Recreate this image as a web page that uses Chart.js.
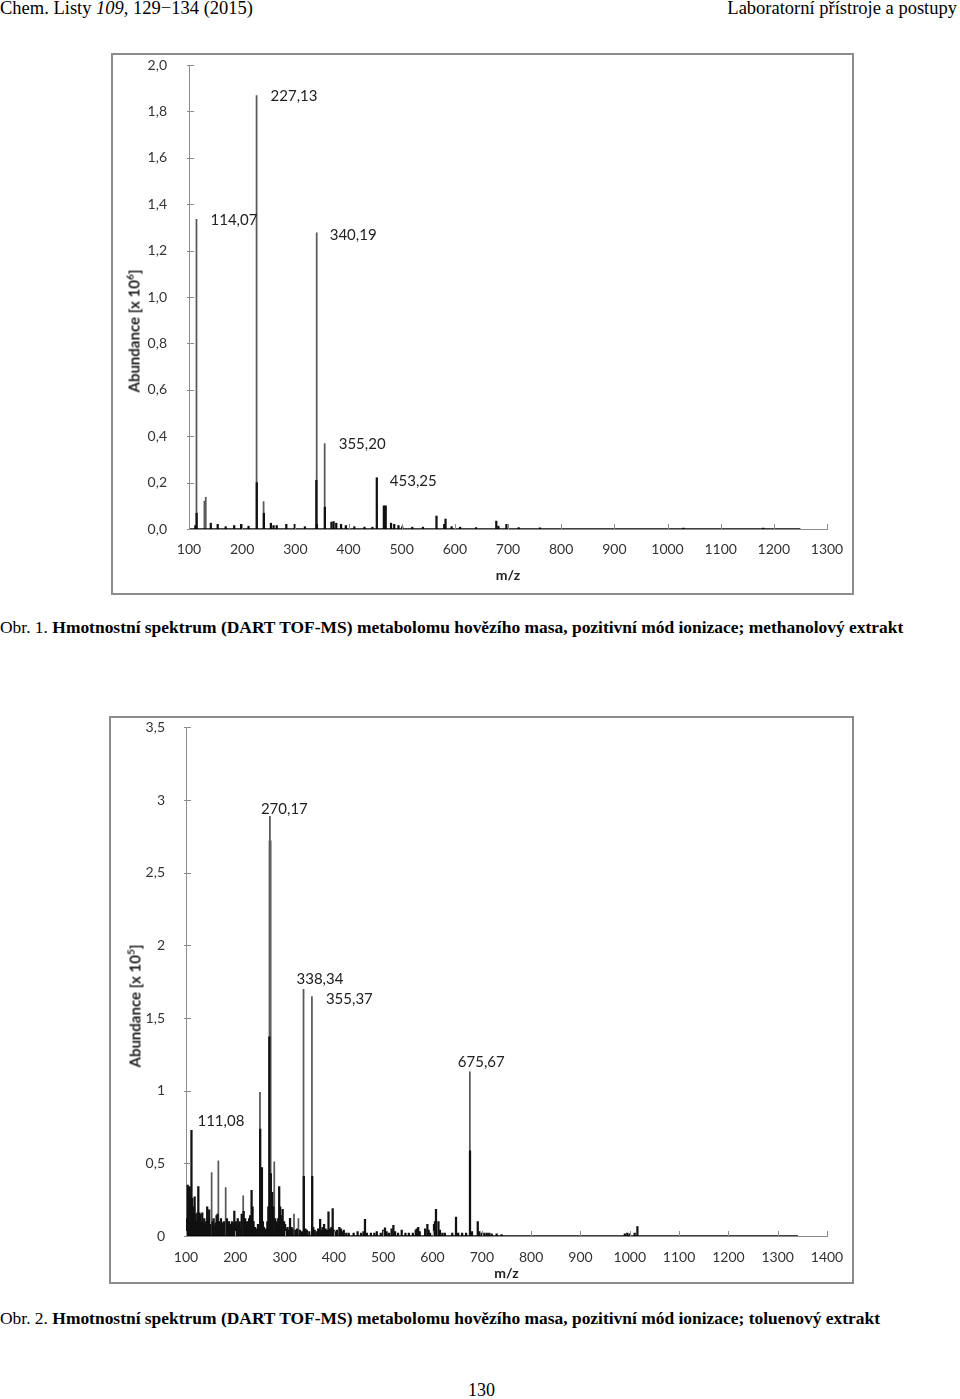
<!DOCTYPE html>
<html>
<head>
<meta charset="utf-8">
<script src="https://cdn.jsdelivr.net/npm/chart.js@4.4.1/dist/chart.umd.min.js"></script>
<style>
  body { margin: 0; background: #fff; }
  #page { position: relative; width: 960px; height: 1399px; overflow: hidden; font-family: "Liberation Serif", "Times New Roman", serif; color: #000; }
  .t { position: absolute; white-space: nowrap; font-size: 17.44px; line-height: 20px; }
  .hd { font-size: 18.5px; }
  .frame { position: absolute; border: 2px solid #8c8c8c; box-sizing: border-box; background: #fff; }
  .frame canvas { position: absolute; left: 0; top: 0; }
  .ytitle { position: absolute; width: 0; height: 0; }
  .ytitle span { position: absolute; left: 0; top: 0; transform: translate(-50%, -50%) rotate(-90deg); white-space: nowrap;
    font-family: Lato, sans-serif; font-weight: bold; font-size: 15px; color: #222; }
  .ytitle sup { font-size: 10px; }
</style>
</head>
<body>
<div id="page">
  <div class="t hd" style="left:0;top:-2px;">Chem. Listy <i>109</i>, 129−134 (2015)</div>
  <div class="t hd" style="right:3px;top:-2px;">Laboratorní přístroje a postupy</div>

  <div class="frame" style="left:111px;top:53px;width:743px;height:542px;">
    <canvas id="chart1" width="739" height="538"></canvas>
  </div>
  <div class="ytitle" style="left:133px;top:331px;"><span>Abundance [x 10<sup>6</sup>]</span></div>

  <div class="t" style="left:0;top:617px;">Obr. 1. <b>Hmotnostní spektrum (DART TOF-MS) metabolomu hovězího masa, pozitivní mód ionizace; methanolový extrakt</b></div>

  <div class="frame" style="left:109px;top:716px;width:745px;height:568px;">
    <canvas id="chart2" width="741" height="564"></canvas>
  </div>
  <div class="ytitle" style="left:134px;top:1006px;"><span>Abundance [x 10<sup>5</sup>]</span></div>

  <div class="t" style="left:0;top:1308px;">Obr. 2. <b>Hmotnostní spektrum (DART TOF-MS) metabolomu hovězího masa, pozitivní mód ionizace; toluenový extrakt</b></div>

  <div class="t" style="left:468px;top:1380px;font-size:18px;">130</div>
</div>

<script>
// ---- Obr. 1 (methanol extract), abundance in 10^6 ----
const xTicks1 = [100, 200, 300, 400, 500, 600, 700, 800, 900, 1000, 1100, 1200, 1300];
const yTicks1 = [0, 0.2, 0.4, 0.6, 0.8, 1.0, 1.2, 1.4, 1.6, 1.8, 2.0];
const yTickLabels1 = ['0,0', '0,2', '0,4', '0,6', '0,8', '1,0', '1,2', '1,4', '1,6', '1,8', '2,0'];

// tall thin peaks (grey)
const mzTall1 = [114.07, 129, 131.5, 227.13, 240.3, 340.19, 355.20];
const abTall1 = [1.335, 0.12, 0.137, 1.868, 0.118, 1.277, 0.368];

// everything else (black)
const mzPeaks1 = [112, 114.4, 141, 154, 169, 185, 198, 212, 227.5, 240.8, 254, 259, 265, 283, 299, 318,
  339.5, 340.6, 355.6, 368, 372, 377, 386, 395, 411, 430, 445, 453.25, 466.5, 470, 480, 486, 494, 501, 520,
  540, 565.5, 580, 582.5, 594, 610, 640, 678, 682, 697, 720, 760, 1030, 1180];
const abPeaks1 = [0.015, 0.068, 0.025, 0.02, 0.01, 0.015, 0.02, 0.012, 0.2, 0.068, 0.025, 0.015, 0.015, 0.02, 0.02, 0.01,
  0.21, 0.02, 0.094, 0.03, 0.032, 0.025, 0.02, 0.015, 0.01, 0.008, 0.008, 0.221, 0.1, 0.1, 0.025, 0.02, 0.015, 0.01, 0.008,
  0.008, 0.056, 0.02, 0.043, 0.01, 0.008, 0.006, 0.034, 0.012, 0.02, 0.006, 0.005, 0.004, 0.004];

const baseline1 = [100, 1250];

const labelMz1 = [114.07, 227.13, 340.19, 355.20, 453.25];
const labelAb1 = [1.335, 1.868, 1.277, 0.368, 0.221];
const labelText1 = ['114,07', '227,13', '340,19', '355,20', '453,25'];

// ---- Obr. 2 (toluene extract), abundance in 10^5 ----
const xTicks2 = [100, 200, 300, 400, 500, 600, 700, 800, 900, 1000, 1100, 1200, 1300, 1400];
const yTicks2 = [0, 0.5, 1, 1.5, 2, 2.5, 3, 3.5];
const yTickLabels2 = ['0', '0,5', '1', '1,5', '2', '2,5', '3', '3,5'];

const mzTall2 = [152, 165.6, 180.5, 216, 250, 270.17, 279, 319, 328, 338.34, 355.37, 675.67];
const abTall2 = [0.436, 0.517, 0.333, 0.276, 0.988, 2.888, 0.51, 0.15, 0.12, 1.698, 1.647, 1.13];

// the wide grey body of the 270 peak
const mzWide2 = [270.6];
const abWide2 = [2.72];

const mzPeaks2 = [100.5, 102, 103.5, 105, 106, 107.5, 109, 111.08, 112.5, 114, 116, 117.5, 119, 121, 123, 125,
  127, 129, 131, 133, 135, 137, 139, 141, 143, 145, 147, 149, 154, 156, 158, 160, 162, 164, 167, 169, 171, 173,
  175, 177, 183, 185, 187, 189, 191, 193, 195, 198, 201, 203, 205, 207, 209, 211, 213, 217, 220, 222, 224, 226,
  228, 230, 233, 235, 237, 240, 243, 246, 250.5, 254, 256, 258, 262, 265, 267, 269, 272, 275, 277, 281, 283,
  285, 287, 289, 291, 293, 296, 299, 301, 303, 306, 309, 311, 314, 316, 322, 325, 331, 335, 339, 342, 345,
  350, 356, 358, 361, 365, 368, 372, 375, 377, 380, 383, 386, 389, 392, 395, 397.5, 400, 403, 406, 411, 414,
  417, 420, 425, 430, 440, 448, 455, 460, 463, 467, 475, 482, 487, 495, 500, 503.6, 507, 512, 517, 520.6, 524,
  530, 537.5, 545, 552, 560, 566, 568, 571, 574, 585, 589.5, 592, 595, 603, 605, 607, 612, 615, 620, 625, 640,
  647.6, 652, 660, 668, 676, 680, 691.7, 695, 700, 705, 710, 715, 720, 730, 740, 990, 995, 1000, 1010, 1015.5];
const abPeaks2 = [0.12, 0.1, 0.35, 0.33, 0.3, 0.34, 0.28, 0.728, 0.26, 0.2, 0.12, 0.27, 0.15, 0.1, 0.16, 0.34,
  0.16, 0.15, 0.1, 0.16, 0.09, 0.12, 0.08, 0.1, 0.2, 0.12, 0.18, 0.08, 0.1, 0.12, 0.07, 0.09, 0.14, 0.15, 0.1, 0.08, 0.12, 0.06,
  0.09, 0.1, 0.12, 0.08, 0.1, 0.06, 0.08, 0.1, 0.09, 0.172, 0.1, 0.07, 0.12, 0.08, 0.1, 0.06, 0.15, 0.17, 0.12, 0.08, 0.1, 0.07,
  0.12, 0.14, 0.315, 0.2, 0.1, 0.06, 0.05, 0.08, 0.735, 0.47, 0.1, 0.06, 0.05, 0.1, 0.2, 1.37, 0.43, 0.3, 0.2, 0.12, 0.1,
  0.08, 0.12, 0.34, 0.2, 0.14, 0.184, 0.1, 0.08, 0.05, 0.06, 0.04, 0.122, 0.06, 0.05, 0.04, 0.05, 0.04, 0.03, 0.41, 0.05, 0.04,
  0.03, 0.41, 0.06, 0.04, 0.03, 0.05, 0.115, 0.04, 0.06, 0.08, 0.05, 0.04, 0.167, 0.05, 0.06, 0.188, 0.04, 0.03, 0.04, 0.06, 0.05,
  0.03, 0.04, 0.02, 0.02, 0.02, 0.03, 0.02, 0.03, 0.115, 0.02, 0.02, 0.02, 0.03, 0.02, 0.04, 0.057, 0.03, 0.02, 0.05, 0.073, 0.03,
  0.02, 0.04, 0.02, 0.02, 0.02, 0.04, 0.05, 0.06, 0.03, 0.05, 0.08, 0.04, 0.02, 0.08, 0.1, 0.184, 0.1, 0.04, 0.02, 0.02, 0.02,
  0.13, 0.02, 0.02, 0.02, 0.586, 0.03, 0.1, 0.03, 0.02, 0.02, 0.02, 0.02, 0.015, 0.015, 0.01, 0.015, 0.02, 0.015, 0.02, 0.064];

const baseline2 = [100, 1341];

const labelMz2 = [111.08, 270.17, 338.34, 355.37, 675.67];
const labelAb2 = [0.728, 2.888, 1.698, 1.647, 1.13];
const labelText2 = ['111,08', '270,17', '338,34', '355,37', '675,67'];

// label placement relative to the peak top, px (layout only)
const labelOffset1 = [[14, 1], [14, 1], [13, 2], [14, 1], [13, 3]];
const labelOffset2 = [[6, -9], [-9, -7], [-7, -10], [14, 2], [-12, -10]];

const tickFont = { family: 'Lato', size: 14 };
const axisGrey = '#8c8c8c';

function pts(xs, ys) {
  return xs.map((x, i) => ({ x: x, y: ys[i] }));
}

// short tick marks drawn inward from the axes, and the peak captions
const innerTicks = {
  id: 'innerTicks',
  afterDraw(chart) {
    const ctx = chart.ctx;
    const xs = chart.scales.x, ys = chart.scales.y;
    ctx.save();
    ctx.strokeStyle = axisGrey;
    ctx.lineWidth = 1;
    ctx.beginPath();
    xs.ticks.forEach(t => {
      const px = Math.round(xs.getPixelForValue(t.value)) + 0.5;
      ctx.moveTo(px, ys.bottom);
      ctx.lineTo(px, ys.bottom - 5);
    });
    ys.ticks.forEach(t => {
      const py = Math.round(ys.getPixelForValue(t.value)) + 0.5;
      ctx.moveTo(xs.left - 2, py);
      ctx.lineTo(xs.left + 5, py);
    });
    ctx.stroke();

    const lab = chart.options.plugins.innerTicks;
    ctx.fillStyle = '#222';
    ctx.font = '15px Lato';
    ctx.textAlign = 'left';
    ctx.textBaseline = 'middle';
    lab.mz.forEach((m, i) => {
      const px = xs.getPixelForValue(m) + lab.offset[i][0];
      const py = ys.getPixelForValue(lab.ab[i]) + lab.offset[i][1];
      ctx.fillText(lab.text[i], px, py);
    });
    ctx.restore();
  }
};

function makeChart(id, cfg) {
  return new Chart(document.getElementById(id), {
    type: 'bar',
    data: {
      datasets: [
        { type: 'line', data: pts(cfg.baseline, [0, 0]), borderColor: '#000', borderWidth: 1.5, pointRadius: 0 },
        { data: pts(cfg.mzPeaks, cfg.abPeaks), backgroundColor: '#111', barThickness: 1.6, grouped: false },
        { data: pts(cfg.mzTall, cfg.abTall), backgroundColor: '#5a5a5a', barThickness: 1.1, grouped: false }
      ].concat(cfg.extra || [])
    },
    options: {
      responsive: false,
      animation: false,
      events: [],
      layout: { padding: cfg.padding },
      plugins: {
        legend: { display: false },
        tooltip: { enabled: false },
        innerTicks: { mz: cfg.labelMz, ab: cfg.labelAb, text: cfg.labelText, offset: cfg.labelOffset }
      },
      scales: {
        x: {
          type: 'linear', min: cfg.xTicks[0], max: cfg.xTicks[cfg.xTicks.length - 1], offset: false,
          afterBuildTicks: s => { s.ticks = cfg.xTicks.map(v => ({ value: v })); },
          afterFit: s => { s.height = cfg.xHeight; },
          // invisible tick length is used as label spacing (tick padding would also pad the chart area)
          grid: { display: false, drawTicks: true, tickLength: cfg.xGap },
          border: { display: true, color: axisGrey, width: 1 },
          ticks: { font: tickFont, color: '#333', padding: 0, maxRotation: 0, autoSkip: false, callback: v => String(v) },
          title: { display: true, text: 'm/z', font: { family: 'Lato', size: 14, weight: 'bold' }, color: '#222',
                   padding: { top: 0, bottom: cfg.titlePad } }
        },
        y: {
          min: 0, max: cfg.yTicks[cfg.yTicks.length - 1],
          afterBuildTicks: s => { s.ticks = cfg.yTicks.map(v => ({ value: v })); },
          afterFit: s => { s.width = cfg.yWidth; },
          grid: { display: false, drawTicks: true, tickLength: cfg.yGap },
          border: { display: true, color: axisGrey, width: 1 },
          ticks: { font: tickFont, color: '#333', padding: 1,
                   callback: v => cfg.yLabels[cfg.yTicks.indexOf(v)] }
        }
      }
    },
    plugins: [innerTicks]
  });
}

makeChart('chart1', {
  xTicks: xTicks1, yTicks: yTicks1, yLabels: yTickLabels1,
  mzTall: mzTall1, abTall: abTall1, mzPeaks: mzPeaks1, abPeaks: abPeaks1, baseline: baseline1,
  labelMz: labelMz1, labelAb: labelAb1, labelText: labelText1, labelOffset: labelOffset1,
  padding: { left: 0, right: 25, top: 10, bottom: 0 },
  yWidth: 76, xHeight: 64, xGap: 12, titlePad: 9, yGap: 21
});

makeChart('chart2', {
  xTicks: xTicks2, yTicks: yTicks2, yLabels: yTickLabels2,
  mzTall: mzTall2, abTall: abTall2, mzPeaks: mzPeaks2, abPeaks: abPeaks2, baseline: baseline2,
  labelMz: labelMz2, labelAb: labelAb2, labelText: labelText2, labelOffset: labelOffset2,
  extra: [{ data: pts(mzWide2, abWide2), backgroundColor: '#8a8a8a', barThickness: 2.6, grouped: false }],
  padding: { left: 0, right: 25, top: 9, bottom: 0 },
  yWidth: 75, xHeight: 46, xGap: 13, titlePad: 0, yGap: 20
});
</script>
</body>
</html>
